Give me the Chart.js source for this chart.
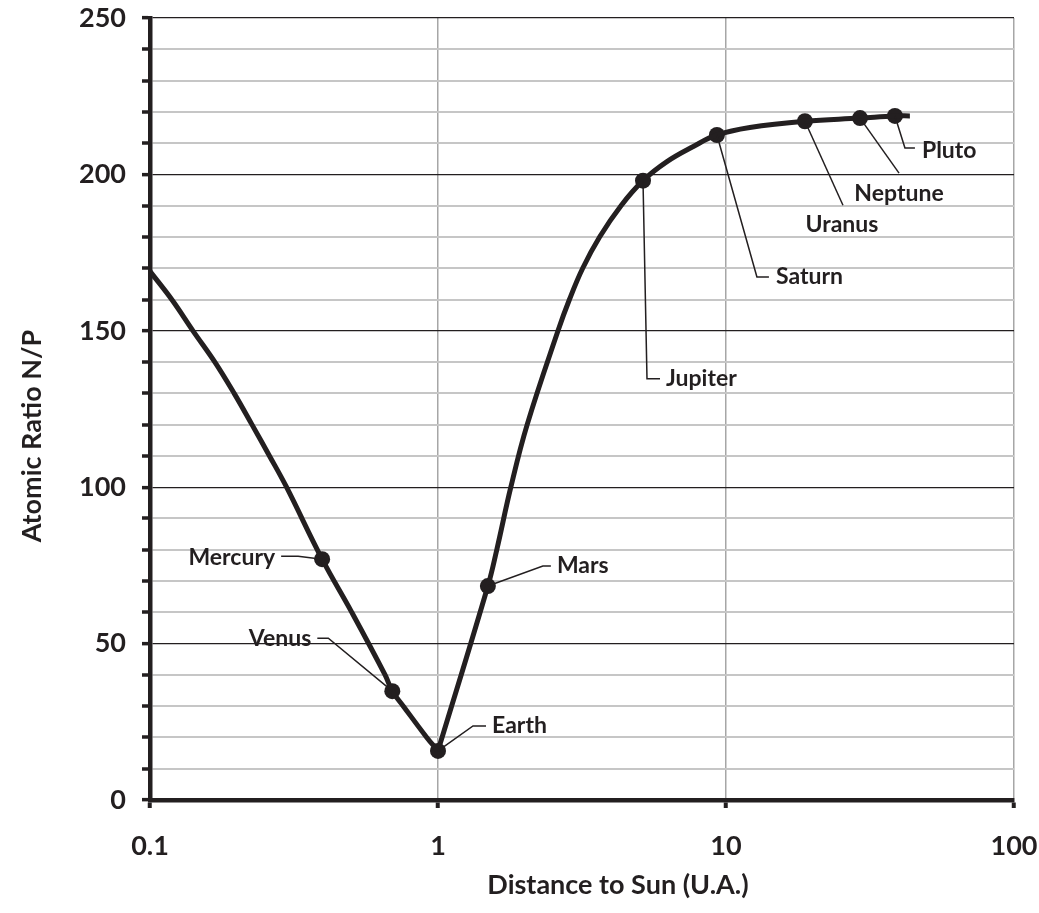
<!DOCTYPE html>
<html>
<head>
<meta charset="utf-8">
<script src="https://cdn.jsdelivr.net/npm/chart.js@4.4.1/dist/chart.umd.min.js"></script>
<style>
  body { margin: 0; background: #fff; }
</style>
</head>
<body>
<canvas id="myChart" width="1039" height="913"></canvas>
<script>
// curve, left branch (Sun side down to Earth)
var leftDist = [0.1, 0.119, 0.141, 0.168, 0.196, 0.226, 0.26, 0.298, 0.396, 0.502, 0.655, 0.694, 0.758, 0.914, 1];
var leftRatio = [169, 160, 150, 140, 130, 120, 110, 100, 77, 60, 40, 34.8, 30, 20, 15.7];

// curve, right branch (Earth outwards)
var rightDist = [1, 1.49, 1.60, 1.79, 2.04, 2.61, 2.86, 3.18, 3.64, 4.32, 5.15, 6.22, 7.7, 9.3, 12.1, 18.8, 29.2, 38.6, 43.5];
var rightRatio = [15.7, 68.4, 80, 100, 120, 150, 160, 170, 180, 190, 198, 204, 208.9, 212.6, 215, 217, 218, 218.7, 218.7];

// planets
var planetNames = ['Mercury', 'Venus', 'Earth', 'Mars', 'Jupiter', 'Saturn', 'Uranus', 'Neptune', 'Pluto'];
var planetDist = [0.396, 0.694, 1, 1.49, 5.15, 9.3, 18.8, 29.2, 38.6];
var planetRatio = [77, 34.8, 15.7, 68.4, 198, 212.6, 217, 218, 218.7];

var xTicks = [0.1, 1, 10, 100];

var ink = '#231f20';
var fontFamily = 'Lato, "Open Sans", sans-serif';

// leader line layout: points relative to the marker, then text anchor
var callouts = [
    { path: [[-24, -3], [-41, -3]], text: [-47, -2], align: 'right' },
    { path: [[-64, -53], [-75, -53]], text: [-81, -53], align: 'right' },
    { path: [[35, -25], [48, -25]], text: [54, -25], align: 'left' },
    { path: [[55, -20], [63, -20]], text: [69, -20], align: 'left' },
    { path: [[4, 198], [17, 198]], text: [23, 198], align: 'left' },
    { path: [[40, 142], [52, 142]], text: [59, 142], align: 'left' },
    { path: [[38, 84]], text: [37, 103], align: 'center' },
    { path: [[39, 55]], text: [39, 75], align: 'center' },
    { path: [[10, 32], [20, 32]], text: [27, 35], align: 'left' }
];

function toPoints(xs, ys) {
    return xs.map(function(x, i) { return { x: x, y: ys[i] }; });
}

var calloutPlugin = {
    id: 'callouts',
    afterDatasetsDraw: function(chart) {
        var ctx = chart.ctx;
        var xs = chart.scales.x, ys = chart.scales.y;
        ctx.save();
        ctx.strokeStyle = ink;
        ctx.fillStyle = ink;
        ctx.lineWidth = 1.5;
        ctx.font = 'bold 23px ' + fontFamily;
        ctx.textBaseline = 'middle';
        planetNames.forEach(function(name, i) {
            var px = xs.getPixelForValue(planetDist[i]);
            var py = ys.getPixelForValue(planetRatio[i]);
            var c = callouts[i];
            ctx.beginPath();
            ctx.moveTo(px, py);
            c.path.forEach(function(p) { ctx.lineTo(px + p[0], py + p[1]); });
            ctx.stroke();
            ctx.textAlign = c.align;
            ctx.fillText(name, px + c.text[0], py + c.text[1]);
        });
        ctx.restore();
    },
    afterDraw: function(chart) {
        var ctx = chart.ctx;
        ctx.save();
        ctx.fillStyle = ink;
        ctx.font = 'bold 27px ' + fontFamily;
        ctx.textAlign = 'center';
        ctx.textBaseline = 'middle';
        ctx.fillText('Distance to Sun (U.A.)', 618, 885);
        ctx.translate(32, 436);
        ctx.rotate(-Math.PI / 2);
        ctx.fillText('Atomic Ratio N/P', 0, 0);
        ctx.restore();
    }
};

var ctx = document.getElementById('myChart').getContext('2d');
var myChart = new Chart(ctx, {
    type: 'line',
    data: {
        datasets: [{
            data: toPoints(leftDist, leftRatio),
            borderColor: ink,
            borderWidth: 5,
            pointRadius: 0,
            tension: 0.4
        }, {
            data: toPoints(rightDist, rightRatio),
            borderColor: ink,
            borderWidth: 5,
            pointRadius: 0,
            tension: 0.4
        }, {
            data: toPoints(planetDist, planetRatio),
            showLine: false,
            pointRadius: 8,
            pointBackgroundColor: ink,
            pointBorderColor: ink,
            pointBorderWidth: 0
        }]
    },
    options: {
        responsive: false,
        animation: false,
        layout: { padding: { left: 0, right: 25, top: 18, bottom: 0 } },
        plugins: {
            legend: { display: false },
            tooltip: { enabled: false }
        },
        scales: {
            x: {
                type: 'logarithmic',
                min: 0.1,
                max: 100,
                border: { color: ink, width: 4.5 },
                grid: {
                    color: '#a6a6a6',
                    lineWidth: 1.5,
                    tickLength: 8,
                    tickColor: ink,
                    tickWidth: 4
                },
                afterBuildTicks: function(axis) {
                    axis.ticks = xTicks.map(function(v) { return { value: v }; });
                },
                afterFit: function(axis) {
                    axis.height = 113;
                    axis.paddingLeft = 0;
                    axis.paddingRight = 0;
                },
                ticks: {
                    autoSkip: false,
                    maxRotation: 0,
                    padding: 22,
                    color: ink,
                    font: { family: fontFamily, size: 27, weight: 'bold' },
                    callback: function(v) { return String(v); }
                }
            },
            y: {
                min: 0,
                max: 250,
                border: { color: ink, width: 4.5 },
                grid: {
                    color: function(c) { return c.tick && c.tick.value % 50 === 0 ? ink : '#c6c6c6'; },
                    lineWidth: function(c) { return c.tick && c.tick.value % 50 === 0 ? 1.3 : 2; },
                    tickLength: 8,
                    tickColor: ink,
                    tickWidth: 3.5
                },
                afterFit: function(axis) {
                    axis.width = 150;
                    axis.paddingTop = 0;
                    axis.paddingBottom = 0;
                },
                ticks: {
                    stepSize: 10,
                    maxTicksLimit: 30,
                    autoSkip: false,
                    padding: 16,
                    color: ink,
                    font: { family: fontFamily, size: 27, weight: 'bold' },
                    callback: function(v) { return v % 50 === 0 ? String(v) : ''; }
                }
            }
        }
    },
    plugins: [calloutPlugin]
});
</script>
</body>
</html>
